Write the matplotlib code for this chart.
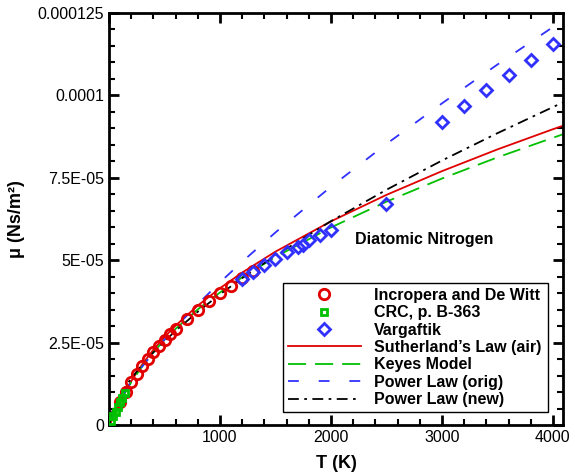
import matplotlib
matplotlib.use('Agg')
import matplotlib.pyplot as plt
from matplotlib.ticker import MultipleLocator

plt.rcParams['font.family'] = ['Liberation Sans', 'DejaVu Sans']

# Incropera and De Witt (Table A.4, nitrogen)
T_incropera = [100, 150, 200, 250, 300, 350, 400, 450, 500, 550, 600, 700, 800, 900, 1000, 1100, 1200, 1300]
mu_incropera = [6.88e-6, 10.06e-6, 12.92e-6, 15.49e-6, 17.82e-6, 20.00e-6, 22.04e-6, 23.96e-6, 25.77e-6,
                27.47e-6, 29.08e-6, 32.10e-6, 34.91e-6, 37.53e-6, 39.99e-6, 42.32e-6, 44.53e-6, 46.62e-6]

# CRC, p. B-363
T_crc = [20, 40, 60, 80, 100, 120, 140]
mu_crc = [1.2e-6, 2.6e-6, 4.0e-6, 5.4e-6, 6.9e-6, 8.3e-6, 9.6e-6]

# Vargaftik
T_varg = [1200, 1300, 1400, 1500, 1600, 1700, 1750, 1800, 1900, 2000, 2500,
          3000, 3200, 3400, 3600, 3800, 4000]
mu_varg = [4.42e-5, 4.64e-5, 4.85e-5, 5.04e-5, 5.25e-5, 5.40e-5, 5.47e-5, 5.60e-5, 5.76e-5, 5.92e-5, 6.70e-5,
           9.19e-5, 9.68e-5, 10.16e-5, 10.62e-5, 11.07e-5, 11.56e-5]

# model curves
T_curve = [10, 25, 50, 100, 150, 200, 300, 400, 500, 600, 800, 1000, 1200, 1500,
           2000, 2500, 3000, 3500, 4000, 4100]
mu_sutherland = [0.38e-6, 1.35e-6, 3.21e-6, 6.93e-6, 10.29e-6, 13.29e-6, 18.46e-6, 22.85e-6, 26.71e-6,
                 30.16e-6, 36.24e-6, 41.52e-6, 46.25e-6, 52.60e-6, 61.79e-6, 69.82e-6, 77.02e-6,
                 83.62e-6, 89.74e-6, 90.91e-6]
mu_keyes = [0.96e-6, 1.80e-6, 3.52e-6, 6.96e-6, 10.10e-6, 12.94e-6, 17.88e-6, 22.11e-6, 25.83e-6,
            29.18e-6, 35.08e-6, 40.21e-6, 44.81e-6, 50.99e-6, 59.94e-6, 67.76e-6, 74.78e-6,
            81.20e-6, 87.15e-6, 88.30e-6]
mu_power_orig = [1.43e-6, 2.82e-6, 4.71e-6, 7.88e-6, 10.63e-6, 13.15e-6, 17.76e-6, 21.97e-6, 25.91e-6,
                 29.66e-6, 36.69e-6, 43.28e-6, 49.54e-6, 58.43e-6, 72.29e-6, 85.27e-6, 97.58e-6,
                 109.37e-6, 120.74e-6, 122.96e-6]
mu_power_new = [2.07e-6, 3.72e-6, 5.80e-6, 9.05e-6, 11.74e-6, 14.12e-6, 18.31e-6, 22.02e-6, 25.41e-6,
                28.57e-6, 34.36e-6, 39.64e-6, 44.56e-6, 51.42e-6, 61.84e-6, 71.37e-6, 80.24e-6,
                88.54e-6, 96.46e-6, 98.02e-6]

y_ticks = [0, 2.5e-5, 5e-5, 7.5e-5, 1e-4, 1.25e-4]
y_tick_labels = ['0', '2.5E-05', '5E-05', '7.5E-05', '0.0001', '0.000125']
x_ticks = [0, 1000, 2000, 3000, 4000]
x_tick_labels = ['', '1000', '2000', '3000', '4000']

RED = '#e00000'
GREEN = '#00c000'
BLUE = '#3030ff'

fig = plt.figure(figsize=(5.75, 4.73), dpi=100)
ax = fig.add_axes([0.1896, 0.1015, 0.7894, 0.871])

l_suth, = ax.plot(T_curve, mu_sutherland, color=RED, lw=1.3, label="Sutherland\u2019s Law (air)")
l_keyes, = ax.plot(T_curve, mu_keyes, color=GREEN, lw=1.3, dashes=(10, 5), label='Keyes Model')
l_porig, = ax.plot(T_curve, mu_power_orig, color=BLUE, lw=1.3, dashes=(6, 11), label='Power Law (orig)')
l_pnew, = ax.plot(T_curve, mu_power_new, color='black', lw=1.3, dashes=(6, 3, 1.5, 3), label='Power Law (new)')

m_inc, = ax.plot(T_incropera, mu_incropera, ls='none', marker='o', ms=7.5, mfc='none', mec=RED, mew=2,
                 zorder=4, label='Incropera and De Witt')
m_crc, = ax.plot(T_crc, mu_crc, ls='none', marker='s', ms=5, mfc='none', mec=GREEN, mew=2,
                 zorder=5, label='CRC, p. B-363')
m_varg, = ax.plot(T_varg, mu_varg, ls='none', marker='D', ms=6.5, mfc='none', mec=BLUE, mew=2,
                  zorder=4, label='Vargaftik')

ax.set_xlim(0, 4090)
ax.set_ylim(0, 1.25e-4)
ax.set_xticks(x_ticks)
ax.set_xticklabels(x_tick_labels)
ax.set_yticks(y_ticks)
ax.set_yticklabels(y_tick_labels)
ax.xaxis.set_minor_locator(MultipleLocator(200))
ax.yaxis.set_minor_locator(MultipleLocator(5e-6))
ax.tick_params(which='both', direction='in', top=True, right=True, labelsize=11.5, width=1.5)
ax.tick_params(which='major', length=7, width=2)
ax.tick_params(which='minor', length=4)
for sp in ax.spines.values():
    sp.set_linewidth(2)

ax.set_xlabel('T (K)', fontsize=13, fontweight='bold', labelpad=7)
ax.set_ylabel('\u03bc (Ns/m\u00b2)', fontsize=13, fontweight='bold', labelpad=9)

ax.text(0.542, 0.451, 'Diatomic Nitrogen', transform=ax.transAxes, fontsize=11.5, fontweight='bold',
        va='center', ha='left')

handles = [m_inc, m_crc, m_varg, l_suth, l_keyes, l_porig, l_pnew]
leg = ax.legend(handles=handles, loc='lower left', bbox_to_anchor=(0.383, 0.0316, 0.584, 0.371),
                mode='expand', prop={'weight': 'bold', 'size': 11.5}, handlelength=4.6,
                handletextpad=0.8, labelspacing=0.15, borderpad=0.3, borderaxespad=0,
                fancybox=False, framealpha=1, edgecolor='black')
leg.get_frame().set_linewidth(1)

plt.savefig('out.png', dpi=100)
plt.close()
